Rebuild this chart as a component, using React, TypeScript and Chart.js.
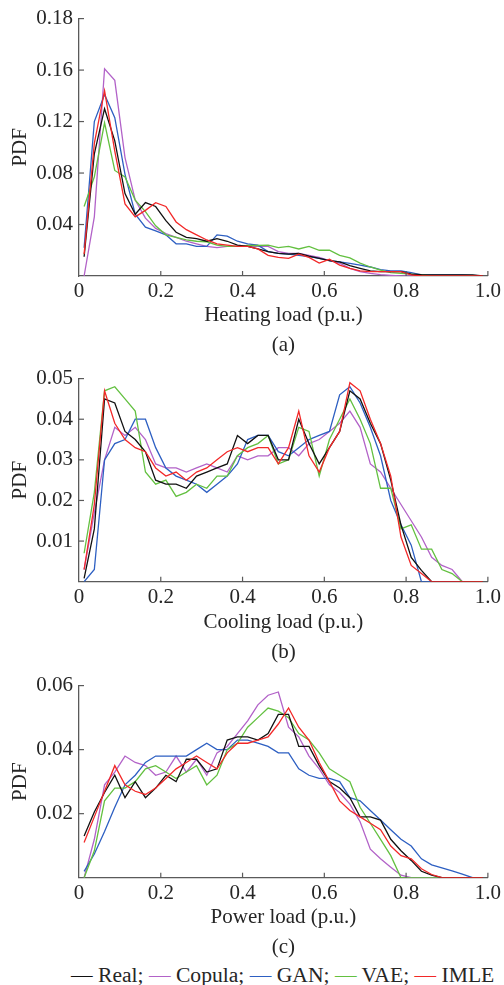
import React, { useEffect, useRef } from "react";
import { Chart, registerables } from "chart.js";

Chart.register(...registerables);

// ---------- data ----------
const seriesNames = ["Real", "Copula", "GAN", "VAE", "IMLE"];
const seriesColors = ["#111111", "#B262C8", "#2D5FC2", "#63C040", "#F22828"];
const seriesOrder = [1, 4, 3, 2, 0];

const loadBins = [
  0.0125, 0.0375, 0.0625, 0.0875, 0.1125, 0.1375, 0.1625, 0.1875, 0.2125, 0.2375,
  0.2625, 0.2875, 0.3125, 0.3375, 0.3625, 0.3875, 0.4125, 0.4375, 0.4625, 0.4875,
  0.5125, 0.5375, 0.5625, 0.5875, 0.6125, 0.6375, 0.6625, 0.6875, 0.7125, 0.7375,
  0.7625, 0.7875, 0.8125, 0.8375, 0.8625, 0.8875, 0.9125, 0.9375, 0.9625, 0.9875,
];

const xTicks = [0, 0.2, 0.4, 0.6, 0.8, 1.0];
const xTickLabels = ["0", "0.2", "0.4", "0.6", "0.8", "1.0"];

const heatingYTicks = [0.04, 0.08, 0.12, 0.16, 0.2];
const heatingYLabels = ["0.04", "0.08", "0.12", "0.16", "0.18"];
const coolingYTicks = [0.01, 0.02, 0.03, 0.04, 0.05];
const coolingYLabels = ["0.01", "0.02", "0.03", "0.04", "0.05"];
const powerYTicks = [0.02, 0.04, 0.06];
const powerYLabels = ["0.02", "0.04", "0.06"];

const heatingReal = [
  0.015, 0.095, 0.13, 0.105, 0.064, 0.048, 0.057, 0.054, 0.043, 0.034,
  0.03, 0.029, 0.027, 0.029, 0.027, 0.024, 0.023, 0.021, 0.019, 0.0175,
  0.017, 0.0175, 0.0155, 0.0137, 0.012, 0.011, 0.008, 0.006, 0.004, 0.0034,
  0.0034, 0.0034, 0.0015, 0.001, 0.0008, 0.0008, 0.0008, 0.0008, 0.0008, 0,
];
const heatingCopula = [
  0, 0.046, 0.161, 0.152, 0.092, 0.059, 0.045, 0.037, 0.033, 0.03,
  0.027, 0.025, 0.023, 0.022, 0.023, 0.023, 0.023, 0.023, 0.023, 0.019,
  0.0175, 0.0175, 0.016, 0.0145, 0.012, 0.01, 0.006, 0.0034, 0.002, 0.001,
  0.0005, 0, 0, 0, 0, 0, 0, 0, 0, 0,
];
const heatingGAN = [
  0.022, 0.12, 0.141, 0.123, 0.079, 0.048, 0.038, 0.035, 0.032, 0.025,
  0.025, 0.023, 0.023, 0.032, 0.031, 0.027, 0.025, 0.024, 0.019, 0.0175,
  0.017, 0.016, 0.015, 0.0137, 0.012, 0.011, 0.0098, 0.0085, 0.007, 0.005,
  0.004, 0.004, 0.0026, 0.0008, 0.0008, 0.0008, 0.0008, 0.0008, 0.0004, 0,
];
const heatingVAE = [
  0.054, 0.077, 0.119, 0.082, 0.077, 0.059, 0.05, 0.039, 0.032, 0.03,
  0.028, 0.027, 0.0266, 0.024, 0.023, 0.023, 0.0237, 0.0237, 0.024, 0.022,
  0.023, 0.021, 0.023, 0.02, 0.02, 0.016, 0.014, 0.01, 0.007, 0.0046,
  0.0026, 0.002, 0.0015, 0.0008, 0, 0, 0, 0, 0, 0,
];
const heatingIMLE = [
  0.017, 0.103, 0.144, 0.097, 0.056, 0.046, 0.051, 0.057, 0.054, 0.042,
  0.036, 0.032, 0.028, 0.025, 0.024, 0.023, 0.023, 0.021, 0.016, 0.0145,
  0.0137, 0.017, 0.0145, 0.01, 0.013, 0.0085, 0.006, 0.004, 0.0034, 0.0034,
  0.0034, 0.0034, 0.0008, 0, 0, 0, 0, 0, 0, 0,
];

const coolingReal = [
  0.0008, 0.013, 0.045, 0.044, 0.037, 0.035, 0.032, 0.025, 0.024, 0.024,
  0.023, 0.026, 0.027, 0.028, 0.029, 0.036, 0.034, 0.036, 0.036, 0.03,
  0.03, 0.04, 0.034, 0.029, 0.033, 0.037, 0.047, 0.045, 0.039, 0.034,
  0.025, 0.014, 0.006, 0.0028, 0, 0, 0, 0, 0, 0,
];
const coolingCopula = [
  0.003, 0.017, 0.03, 0.038, 0.036, 0.038, 0.035, 0.029, 0.028, 0.028,
  0.027, 0.028, 0.029, 0.028, 0.027, 0.031, 0.03, 0.031, 0.031, 0.033,
  0.033, 0.031, 0.034, 0.035, 0.037, 0.039, 0.042, 0.038, 0.029, 0.027,
  0.023, 0.019, 0.015, 0.011, 0.006, 0.004, 0.003, 0, 0, 0,
];
const coolingGAN = [
  0, 0.003, 0.03, 0.034, 0.035, 0.04, 0.04, 0.033, 0.028, 0.026,
  0.025, 0.024, 0.022, 0.024, 0.026, 0.029, 0.035, 0.036, 0.036, 0.032,
  0.031, 0.033, 0.035, 0.036, 0.037, 0.046, 0.048, 0.044, 0.038, 0.031,
  0.02, 0.014, 0.009, 0, 0, 0, 0, 0, 0, 0,
];
const coolingVAE = [
  0.007, 0.022, 0.047, 0.048, 0.045, 0.042, 0.027, 0.024, 0.025, 0.021,
  0.022, 0.024, 0.023, 0.026, 0.026, 0.031, 0.033, 0.034, 0.036, 0.029,
  0.03, 0.038, 0.037, 0.026, 0.035, 0.04, 0.045, 0.04, 0.034, 0.023,
  0.023, 0.013, 0.014, 0.008, 0.008, 0.003, 0.002, 0, 0, 0,
];
const coolingIMLE = [
  0.003, 0.019, 0.047, 0.039, 0.035, 0.033, 0.032, 0.028, 0.026, 0.027,
  0.025, 0.027, 0.028, 0.03, 0.032, 0.033, 0.032, 0.033, 0.033, 0.029,
  0.033, 0.042, 0.031, 0.027, 0.033, 0.037, 0.049, 0.047, 0.04, 0.034,
  0.026, 0.011, 0.004, 0.002, 0, 0, 0, 0, 0, 0,
];

const powerReal = [
  0.013, 0.0205, 0.0266, 0.032, 0.025, 0.03, 0.025, 0.028, 0.032, 0.03,
  0.037, 0.037, 0.033, 0.034, 0.043, 0.044, 0.044, 0.043, 0.045, 0.051,
  0.051, 0.041, 0.041, 0.035, 0.03, 0.028, 0.025, 0.019, 0.019, 0.018,
  0.012, 0.0084, 0.0054, 0.002, 0.0008, 0, 0, 0, 0, 0,
];
const powerCopula = [
  0, 0.012, 0.029, 0.033, 0.038, 0.036, 0.035, 0.032, 0.033, 0.038,
  0.033, 0.037, 0.032, 0.039, 0.041, 0.045, 0.049, 0.054, 0.057, 0.058,
  0.047, 0.044, 0.038, 0.034, 0.029, 0.0266, 0.023, 0.0175, 0.0089, 0.0059,
  0.0033, 0.0008, 0, 0, 0, 0, 0, 0, 0, 0,
];
const powerGAN = [
  0.002, 0.0074, 0.0144, 0.022, 0.029, 0.032, 0.036, 0.038, 0.038, 0.038,
  0.038, 0.04, 0.042, 0.04, 0.04, 0.043, 0.043, 0.042, 0.041, 0.039,
  0.039, 0.034, 0.032, 0.031, 0.031, 0.03, 0.025, 0.024, 0.021, 0.018,
  0.015, 0.012, 0.0099, 0.0059, 0.004, 0.0031, 0.0021, 0.0011, 0, 0,
];
const powerVAE = [
  0, 0.0084, 0.024, 0.028, 0.028, 0.03, 0.034, 0.035, 0.033, 0.031,
  0.033, 0.035, 0.029, 0.032, 0.04, 0.042, 0.047, 0.05, 0.053, 0.052,
  0.05, 0.045, 0.043, 0.039, 0.034, 0.032, 0.03, 0.022, 0.017, 0.012,
  0.0069, 0, 0, 0, 0, 0, 0, 0, 0, 0,
];
const powerIMLE = [
  0.011, 0.019, 0.027, 0.035, 0.029, 0.027, 0.026, 0.028, 0.031, 0.034,
  0.036, 0.038, 0.036, 0.034, 0.039, 0.042, 0.042, 0.043, 0.044, 0.048,
  0.053, 0.047, 0.043, 0.036, 0.03, 0.024, 0.021, 0.019, 0.017, 0.015,
  0.0099, 0.0069, 0.0059, 0.0028, 0.001, 0, 0, 0, 0, 0,
];

// ---------- style ----------
const FONT_FAMILY = "'Liberation Serif', 'Times New Roman', serif";
const FONT_SIZE = 21;
const TEXT_COLOR = "#262626";
const AXIS_COLOR = "#5a5a5a";

const inwardTicks = {
  id: "inwardTicks",
  afterDraw(chart: any) {
    const { ctx, chartArea, scales } = chart;
    const xs = scales.x;
    const ys = scales.y;
    ctx.save();
    ctx.strokeStyle = AXIS_COLOR;
    ctx.lineWidth = 1.2;
    xs.ticks.forEach((t: any) => {
      const px = xs.getPixelForValue(t.value);
      if (Math.abs(px - chartArea.left) < 1) return;
      ctx.beginPath();
      ctx.moveTo(px, chartArea.bottom);
      ctx.lineTo(px, chartArea.bottom - 5);
      ctx.stroke();
    });
    ys.ticks.forEach((t: any) => {
      const py = ys.getPixelForValue(t.value);
      ctx.beginPath();
      ctx.moveTo(chartArea.left, py);
      ctx.lineTo(chartArea.left + 5, py);
      ctx.stroke();
    });
    ctx.restore();
  },
};

type PanelProps = {
  top: number;
  height: number;
  padTop: number;
  xHeight: number;
  yMax: number;
  yTicks: number[];
  yLabels: string[];
  xTitle: string[];
  series: number[][];
};

function Panel(props: PanelProps) {
  const ref = useRef<HTMLCanvasElement>(null);
  useEffect(() => {
    const font = { family: FONT_FAMILY, size: FONT_SIZE };
    const chart = new Chart(ref.current as HTMLCanvasElement, {
      type: "line",
      data: {
        datasets: props.series.map((arr, i) => ({
          label: seriesNames[i],
          data: loadBins.map((x, k) => ({ x, y: arr[k] })),
          borderColor: seriesColors[i],
          backgroundColor: seriesColors[i],
          borderWidth: 1.3,
          pointRadius: 0,
          tension: 0,
          order: seriesOrder[i],
        })),
      },
      options: {
        animation: false,
        responsive: false,
        devicePixelRatio: 1,
        layout: { padding: { left: 0, right: 15.7, top: props.padTop, bottom: 0 } },
        plugins: { legend: { display: false }, tooltip: { enabled: false } },
        scales: {
          x: {
            type: "linear",
            min: 0,
            max: 1,
            afterBuildTicks: (s: any) => {
              s.ticks = xTicks.map((v) => ({ value: v }));
            },
            afterFit: (s: any) => {
              s.height = props.xHeight;
            },
            ticks: {
              callback: (_v: any, i: number) => xTickLabels[i],
              font,
              color: TEXT_COLOR,
              padding: 3,
              maxRotation: 0,
            },
            grid: { display: false, drawTicks: false },
            border: { display: true, color: AXIS_COLOR, width: 1.3 },
            title: {
              display: true,
              text: props.xTitle,
              font: { family: FONT_FAMILY, size: FONT_SIZE, lineHeight: 30 / 21 },
              color: TEXT_COLOR,
              padding: { top: 0, bottom: 0 },
            },
          },
          y: {
            type: "linear",
            min: 0,
            max: props.yMax,
            afterBuildTicks: (s: any) => {
              s.ticks = props.yTicks.map((v) => ({ value: v }));
            },
            afterFit: (s: any) => {
              s.width = 79;
            },
            ticks: {
              callback: (_v: any, i: number) => props.yLabels[i],
              font,
              color: TEXT_COLOR,
              padding: 6,
            },
            grid: { display: false, drawTicks: false },
            border: { display: true, color: AXIS_COLOR, width: 1.3 },
            title: {
              display: true,
              text: "PDF",
              font: { family: FONT_FAMILY, size: FONT_SIZE, lineHeight: 1.2 },
              color: TEXT_COLOR,
              padding: { top: 8, bottom: 0 },
            },
          },
        },
      } as any,
      plugins: [inwardTicks],
    });
    return () => chart.destroy();
  }, []);
  return (
    <canvas
      ref={ref}
      width={504}
      height={props.height}
      style={{ position: "absolute", left: 0, top: props.top, width: 504, height: props.height }}
    />
  );
}

export default function App() {
  return (
    <div style={{ position: "absolute", left: 0, top: 0, width: 504, height: 985, background: "#fff" }}>
      <Panel
        top={0}
        height={360}
        padTop={17.3}
        xHeight={84}
        yMax={0.2}
        yTicks={heatingYTicks}
        yLabels={heatingYLabels}
        xTitle={["Heating load (p.u.)", "(a)"]}
        series={[heatingReal, heatingCopula, heatingGAN, heatingVAE, heatingIMLE]}
      />
      <Panel
        top={360}
        height={307}
        padTop={12.3}
        xHeight={85.3}
        yMax={0.05}
        yTicks={coolingYTicks}
        yLabels={coolingYLabels}
        xTitle={["Cooling load (p.u.)", "(b)"]}
        series={[coolingReal, coolingCopula, coolingGAN, coolingVAE, coolingIMLE]}
      />
      <Panel
        top={667}
        height={295}
        padTop={12.3}
        xHeight={84.3}
        yMax={0.06}
        yTicks={powerYTicks}
        yLabels={powerYLabels}
        xTitle={["Power load (p.u.)", "(c)"]}
        series={[powerReal, powerCopula, powerGAN, powerVAE, powerIMLE]}
      />
      <div
        style={{
          position: "absolute",
          left: 71,
          top: 962,
          whiteSpace: "nowrap",
          fontFamily: FONT_FAMILY,
          fontSize: 21.6,
          lineHeight: "26px",
          color: TEXT_COLOR,
        }}
      >
        {seriesNames.map((name, i) => (
          <span key={name}>
            <span style={{ color: seriesColors[i] }}>—</span>
            {" " + name + (i < seriesNames.length - 1 ? "; " : "")}
          </span>
        ))}
      </div>
    </div>
  );
}
